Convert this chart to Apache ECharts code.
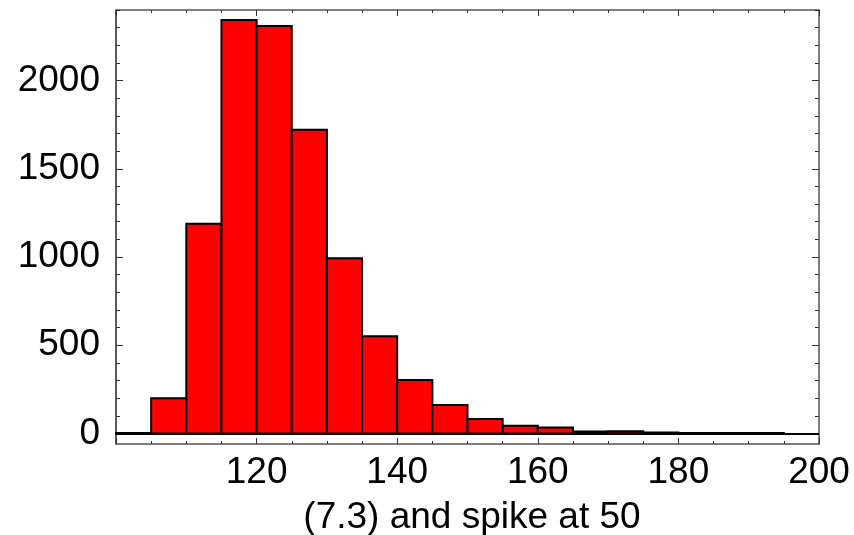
<!DOCTYPE html>
<html>
<head>
<meta charset="utf-8">
<script src="https://cdn.jsdelivr.net/npm/echarts@6/dist/echarts.min.js"></script>
<style>
html,body{margin:0;padding:0;background:#fff;}
#chart{width:854px;height:535px;}
</style>
</head>
<body>
<div id="chart"></div>
<script>
// Histogram bins (width 5) and counts
var binStarts = [100,105,110,115,120,125,130,135,140,145,150,155,160,165,170,175,180,185,190];
var binWidth = 5;
var counts = [3,199,1189,2343,2310,1721,993,551,303,161,82,44,33,11,12,5,3,2,2];

var xTickLabels = [120,140,160,180,200];
var yTickLabels = [0,500,1000,1500,2000];
var yMinorTicks = [0,100,200,300,400,500,600,700,800,900,1000,1100,1200,1300,1400,1500,1600,1700,1800,1900,2000,2100,2200,2300,2400];
var titleText = '(7.3) and spike at 50';

var data = binStarts.map(function(s,i){ return [s, s+binWidth, counts[i]]; });

var frameColor = '#555';
var axisFont = {fontFamily:'Liberation Sans, Arial, sans-serif', fontSize:37, fontWeight:'normal', color:'#000'};

function xAx(pos, labels){
  return {
    type:'value', position:pos, min:100, max:200, interval:20,
    axisLine:{show:true, onZero:false, lineStyle:{color:frameColor, width:1.5}},
    axisTick:{show:true, inside:true, length:6, lineStyle:{color:'#333', width:1}},
    minorTick:{show:true, splitNumber:4, length:3, lineStyle:{color:'#333', width:1}},
    splitLine:{show:false},
    axisLabel: labels ? Object.assign({show:true, margin:10, formatter:function(v){ return xTickLabels.indexOf(v) >= 0 ? String(v) : ''; }}, axisFont) : {show:false}
  };
}
function yAx(pos, vals, len, labels, line){
  return {
    type:'value', position:pos, min:-60, max:2400,
    axisLine:{show:line, onZero:false, lineStyle:{color: pos==='left' ? '#222' : frameColor, width:1.5}},
    axisTick:{show:true, inside:true, length:len, customValues:vals, lineStyle:{color:'#333', width:1}},
    splitLine:{show:false},
    axisLabel: labels ? Object.assign({show:true, margin:16, customValues:vals, formatter:function(v){ return String(v); }}, axisFont) : {show:false, customValues:vals}
  };
}

var chart = echarts.init(document.getElementById('chart'), null, {renderer:'canvas'});
chart.setOption({
  animation:false,
  backgroundColor:'#fff',
  grid:{left:116, right:35, top:10, bottom:91, show:false},
  title:{
    text:titleText,
    left:467, top:494, textAlign:'center',
    textStyle:{fontFamily:'Liberation Sans, Arial, sans-serif', fontSize:37, fontWeight:'normal', color:'#000'}
  },
  xAxis:[ xAx('bottom', true), xAx('top', false) ],
  yAxis:[
    yAx('left', yTickLabels, 7, true, true),
    yAx('left', yMinorTicks, 4, false, false),
    yAx('right', yTickLabels, 7, false, true),
    yAx('right', yMinorTicks, 4, false, false)
  ],
  series:[{
    type:'custom',
    xAxisIndex:0, yAxisIndex:0,
    data:data,
    renderItem:function(params, api){
      var p0 = api.coord([api.value(0), api.value(2)]);
      var p1 = api.coord([api.value(1), 0]);
      return {
        type:'rect',
        shape:{x:p0[0], y:p0[1], width:p1[0]-p0[0], height:p1[1]-p0[1]},
        style:{fill:'#ff0000', stroke:'#000', lineWidth:2}
      };
    },
    markLine:{
      silent:true, symbol:'none', label:{show:false},
      lineStyle:{color:'#000', width:2, type:'solid'},
      data:[{yAxis:0}]
    }
  }]
});
</script>
</body>
</html>
